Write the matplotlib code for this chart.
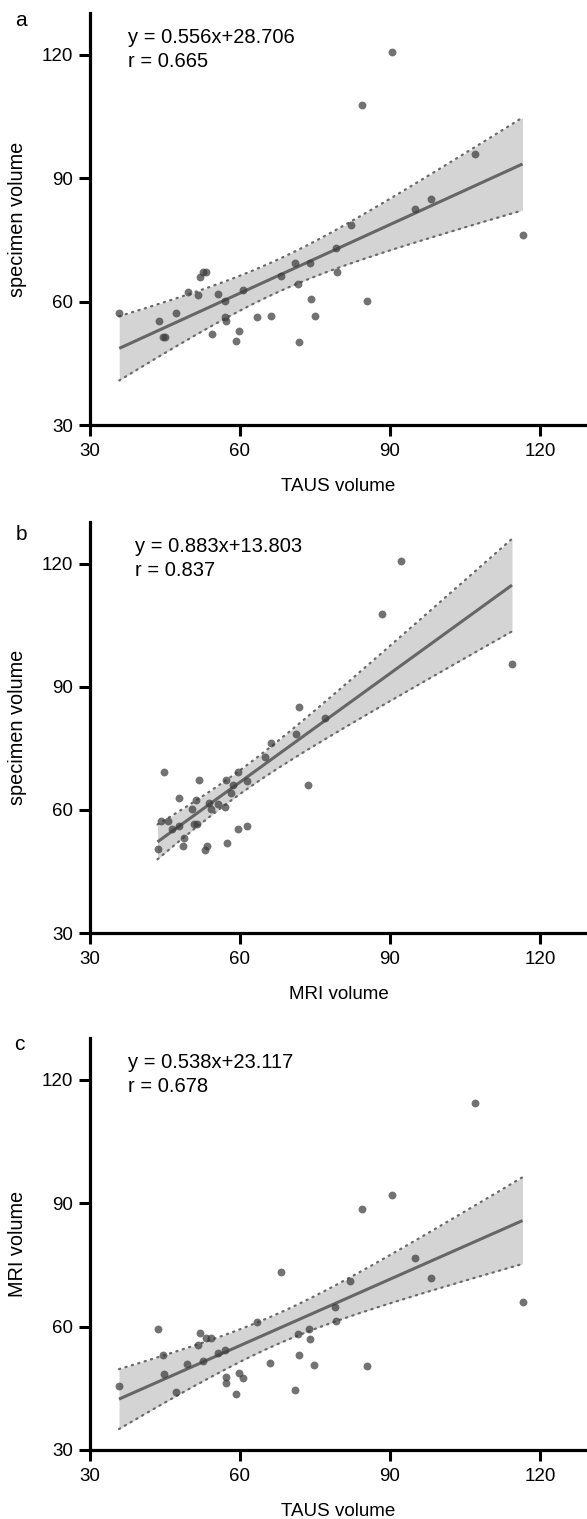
import numpy as np
import matplotlib
matplotlib.use("Agg")
import matplotlib.pyplot as plt

plt.rcParams['font.family'] = ['Liberation Sans', 'DejaVu Sans']

# ---------------- data ----------------
# panel a: TAUS volume vs specimen volume
taus_a = [90.4, 84.4, 107.0, 82.1, 94.9, 98.25, 116.5, 79.1,
          70.9, 73.9, 52.5, 53.1, 52.0, 68.25, 79.3, 71.6, 60.6, 49.5,
          51.6, 55.6, 57.0, 74.1, 85.4, 35.85, 47.25, 43.7, 57.0, 57.2,
          63.4, 66.2, 74.9, 44.6, 45.0, 54.4, 59.85, 59.2, 71.85]
spec_a = [120.6, 107.8, 95.8, 78.6, 82.6, 84.9, 76.3, 73.1,
          69.3, 69.3, 67.3, 67.3, 66.1, 66.3, 67.1, 64.2, 62.8, 62.4,
          61.5, 61.8, 60.2, 60.6, 60.2, 57.2, 57.2, 55.3, 56.2, 55.2,
          56.2, 56.5, 56.4, 51.3, 51.3, 52.1, 52.9, 50.5, 50.3]

# panel b: MRI volume vs specimen volume
mri_b = [92.2, 88.4, 114.4, 76.9, 73.65,
         71.7, 71.1, 66.1, 64.9, 59.5, 44.7, 57.2, 61.3, 51.7, 58.5,
         58.1, 47.7, 51.1, 53.7, 55.5, 50.4, 54.1, 57.0, 44.1, 45.5,
         46.3, 47.8, 50.7, 51.3, 61.3, 59.5, 48.7, 48.5, 43.5, 53.3,
         53.0, 57.3]
spec_b = [120.6, 107.8, 95.7, 82.5, 66.2,
          85.0, 78.6, 76.4, 73.0, 69.3, 69.3, 67.2, 67.1, 67.2, 66.0,
          64.2, 63.0, 62.4, 61.8, 61.4, 60.2, 60.2, 60.7, 57.2, 57.2,
          55.3, 56.1, 56.5, 56.5, 56.2, 55.3, 53.1, 51.2, 50.5, 51.3,
          50.3, 52.0]

# panel c: TAUS volume vs MRI volume
taus_c = [107.0, 90.3, 84.4, 94.9, 68.25, 98.1, 82.05, 116.5, 78.9,
          79.1, 63.4, 43.65, 73.7, 51.9, 71.55, 53.1, 54.2, 74.0, 51.5,
          55.5, 57.0, 44.55, 71.7, 52.65, 49.35, 66.0, 74.8, 85.35, 44.85,
          57.1, 59.8, 60.6, 57.2, 35.8, 70.9, 47.1, 59.2]
mri_c = [114.3, 92.1, 88.5, 76.7, 73.4, 71.8, 71.1, 66.0, 64.75,
         61.4, 61.2, 59.4, 59.35, 58.4, 58.1, 57.3, 57.3, 56.9, 55.5,
         53.6, 54.2, 53.2, 53.0, 51.6, 51.0, 51.2, 50.6, 50.4, 48.5,
         47.7, 48.7, 47.6, 46.2, 45.5, 44.6, 44.1, 43.5]

slopes = [0.556, 0.883, 0.538]
intercepts = [28.706, 13.803, 23.117]
r_values = [0.665, 0.837, 0.678]
panel_letters = ['a', 'b', 'c']
x_labels = ['TAUS volume', 'MRI volume', 'TAUS volume']
y_labels = ['specimen volume', 'specimen volume', 'MRI volume']
ticks = [30, 60, 90, 120]
T_CRIT = 2.030  # t(0.975, n-2=35)

panels = [(taus_a, spec_a), (mri_b, spec_b), (taus_c, mri_c)]

# ---------------- figure ----------------
W, H = 587, 1519
fig = plt.figure(figsize=(W / 100, H / 100), dpi=100)

# axes boxes in pixels: (left, top, bottom)
boxes = [(90, 13, 425), (90, 522, 933), (90, 1038, 1450)]
letter_pos = [(21, 21), (21, 535), (19, 1045)]

for i, ((xs, ys), (l, t, b)) in enumerate(zip(panels, boxes)):
    xs = np.asarray(xs, float)
    ys = np.asarray(ys, float)
    ax = fig.add_axes([l / W, 1 - b / H, 1 - l / W, (b - t) / H])
    ax.set_xlim(30, 129.4)
    ax.set_ylim(30, 130.2)

    m, c0 = slopes[i], intercepts[i]
    n = len(xs)
    resid = ys - (m * xs + c0)
    s = np.sqrt(np.sum(resid ** 2) / (n - 2))
    xbar = xs.mean()
    sxx = np.sum((xs - xbar) ** 2)
    xg = np.linspace(xs.min(), xs.max(), 200)
    yg = m * xg + c0
    se = s * np.sqrt(1.0 / n + (xg - xbar) ** 2 / sxx)
    lo = yg - T_CRIT * se
    hi = yg + T_CRIT * se

    ax.fill_between(xg, lo, hi, color='#d4d4d4', lw=0, zorder=1)
    ax.plot(xg, hi, color='#6a6a6a', lw=1.6, ls=(0, (0.6, 2.4)),
            dash_capstyle='round', zorder=2)
    ax.plot(xg, lo, color='#6a6a6a', lw=1.6, ls=(0, (0.6, 2.4)),
            dash_capstyle='round', zorder=2)
    ax.plot(xg, yg, color='#666666', lw=2.2, zorder=3,
            solid_capstyle='butt')
    ax.scatter(xs, ys, s=32, color='#3c3c3c', alpha=0.72, lw=0, zorder=4)

    tx = 37.7 if i != 1 else 39.0
    ax.text(tx, 124.2, f'y = {m:.3f}x+{c0:.3f}', fontsize=14.5,
            va='center', ha='left')
    ax.text(tx, 118.3, f'r = {r_values[i]:.3f}', fontsize=14.5,
            va='center', ha='left')

    for side in ('top', 'right'):
        ax.spines[side].set_visible(False)
    for side in ('left', 'bottom'):
        ax.spines[side].set_linewidth(2.3)
        ax.spines[side].set_color('black')
    ax.set_xticks(ticks)
    ax.set_yticks(ticks)
    ax.tick_params(axis='both', direction='out', length=8, width=2.2,
                   labelsize=13.5, pad=4, colors='black')
    ax.tick_params(axis='x', pad=5)
    ax.set_xlabel(x_labels[i], fontsize=13.5, labelpad=13)
    ax.set_ylabel(y_labels[i], fontsize=14.3, labelpad=11)

    fig.text(letter_pos[i][0] / W, 1 - letter_pos[i][1] / H,
             panel_letters[i], fontsize=15, ha='center', va='center')

fig.savefig('out.png', dpi=100)
